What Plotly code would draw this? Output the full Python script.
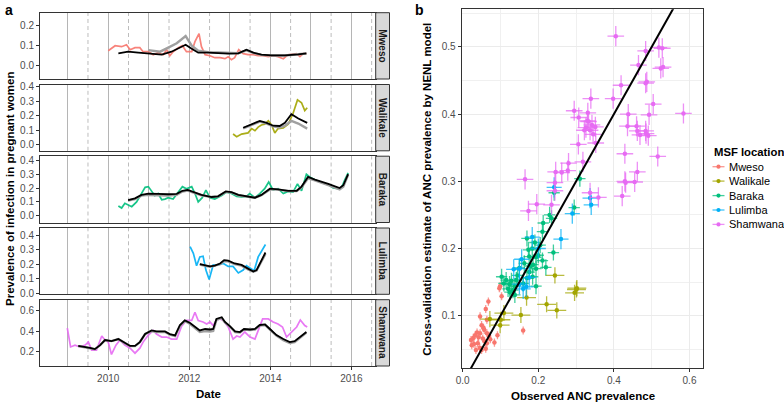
import plotly.graph_objects as go

# ---------------- Panel a data (decimal year, prevalence) ----------------
mweso_obs_t = [2010.00, 2010.17, 2010.33, 2010.45, 2010.54, 2010.66, 2010.78, 2010.86, 2010.99, 2011.11,
               2011.23, 2011.36, 2011.44, 2011.52, 2011.60, 2011.73, 2011.83, 2011.93, 2012.06, 2012.14,
               2012.24, 2012.30, 2012.39, 2012.51, 2012.63, 2012.76, 2012.88, 2012.96, 2013.04, 2013.12,
               2013.22, 2013.33, 2013.45, 2013.58, 2013.70, 2013.82, 2013.95, 2014.07, 2014.19, 2014.32,
               2014.44, 2014.56, 2014.65, 2014.73, 2014.81, 2014.89]
mweso_obs_v = [0.075, 0.10, 0.095, 0.105, 0.08, 0.09, 0.09, 0.07, 0.07, 0.055,
               0.065, 0.055, 0.08, 0.05, 0.07, 0.09, 0.10, 0.07, 0.07, 0.12,
               0.16, 0.095, 0.055, 0.05, 0.04, 0.04, 0.035, 0.045, 0.03, 0.04,
               0.08, 0.06, 0.055, 0.055, 0.05, 0.05, 0.045, 0.05, 0.045, 0.035,
               0.055, 0.06, 0.06, 0.045, 0.06, 0.06]
mweso_fit_t = [2010.25, 2010.49, 2010.74, 2010.99, 2011.32, 2011.56, 2011.77, 2011.91, 2012.06, 2012.22,
               2012.47, 2012.71, 2012.96, 2013.21, 2013.41, 2013.58, 2013.78, 2014.03, 2014.36, 2014.69, 2014.89]
mweso_fit_v = [0.062, 0.07, 0.065, 0.062, 0.055, 0.07, 0.09, 0.105, 0.085, 0.065,
               0.065, 0.062, 0.06, 0.062, 0.08, 0.065, 0.055, 0.052, 0.052, 0.057, 0.062]
mweso_alt_t = [2010.99, 2011.28, 2011.48, 2011.69, 2011.91, 2012.06, 2012.22, 2012.47, 2012.71, 2012.96,
               2013.21, 2013.41, 2013.58, 2013.78, 2014.03, 2014.36, 2014.69, 2014.89]
mweso_alt_v = [0.078, 0.07, 0.09, 0.112, 0.148, 0.10, 0.075, 0.068, 0.066, 0.064,
               0.062, 0.077, 0.064, 0.054, 0.051, 0.051, 0.056, 0.061]

walikale_obs_t = [2013.08, 2013.17, 2013.29, 2013.45, 2013.54, 2013.62, 2013.70, 2013.78, 2013.86, 2013.95,
                  2014.03, 2014.11, 2014.19, 2014.32, 2014.44, 2014.56, 2014.67, 2014.77, 2014.85, 2014.91]
walikale_obs_v = [0.072, 0.053, 0.072, 0.08, 0.11, 0.095, 0.12, 0.135, 0.14, 0.165,
                  0.135, 0.08, 0.11, 0.115, 0.14, 0.215, 0.31, 0.29, 0.235, 0.255]
walikale_fit_t = [2013.33, 2013.54, 2013.74, 2013.91, 2014.07, 2014.23, 2014.36, 2014.52, 2014.69, 2014.91]
walikale_fit_v = [0.116, 0.14, 0.163, 0.15, 0.13, 0.128, 0.15, 0.21, 0.18, 0.15]
walikale_alt_v = [0.112, 0.135, 0.158, 0.145, 0.125, 0.118, 0.13, 0.163, 0.145, 0.11]

baraka_obs_t = [2010.25, 2010.33, 2010.41, 2010.49, 2010.58, 2010.70, 2010.78, 2010.91, 2010.99, 2011.07,
                2011.15, 2011.23, 2011.32, 2011.40, 2011.48, 2011.60, 2011.73, 2011.83, 2011.93, 2012.06,
                2012.14, 2012.22, 2012.32, 2012.41, 2012.51, 2012.63, 2012.80, 2012.92, 2013.04, 2013.17,
                2013.29, 2013.41, 2013.49, 2013.62, 2013.74, 2013.86, 2013.96, 2014.07, 2014.19, 2014.32,
                2014.44, 2014.56, 2014.67, 2014.77, 2014.89, 2014.97, 2015.10, 2015.26, 2015.43, 2015.55,
                2015.67, 2015.76, 2015.84, 2015.92]
baraka_obs_v = [0.07, 0.055, 0.09, 0.08, 0.065, 0.1, 0.137, 0.205, 0.21, 0.18,
                0.145, 0.16, 0.115, 0.12, 0.13, 0.12, 0.17, 0.21, 0.195, 0.21,
                0.16, 0.1, 0.13, 0.185, 0.13, 0.12, 0.145, 0.17, 0.16, 0.14,
                0.135, 0.14, 0.16, 0.13, 0.16, 0.195, 0.243, 0.185, 0.195, 0.16,
                0.175, 0.17, 0.23, 0.18, 0.30, 0.28, 0.26, 0.24, 0.225, 0.2,
                0.195, 0.205, 0.26, 0.31]
baraka_fit_t = [2010.49, 2010.66, 2010.82, 2010.99, 2011.23, 2011.48, 2011.69, 2011.83, 2011.96, 2012.10,
                2012.30, 2012.55, 2012.71, 2012.90, 2013.04, 2013.21, 2013.45, 2013.62, 2013.78, 2013.99,
                2014.19, 2014.44, 2014.65, 2014.77, 2014.93, 2015.10, 2015.43, 2015.71, 2015.80, 2015.92]
baraka_fit_v = [0.113, 0.125, 0.15, 0.16, 0.158, 0.155, 0.158, 0.18, 0.187, 0.17,
                0.15, 0.135, 0.14, 0.175, 0.17, 0.15, 0.14, 0.13, 0.15, 0.195,
                0.19, 0.18, 0.18, 0.21, 0.28, 0.26, 0.23, 0.2, 0.22, 0.30]
baraka_alt_v = [0.11, 0.12, 0.145, 0.15, 0.148, 0.145, 0.15, 0.175, 0.182, 0.168,
                0.148, 0.135, 0.14, 0.172, 0.168, 0.148, 0.138, 0.13, 0.148, 0.19,
                0.188, 0.178, 0.178, 0.205, 0.27, 0.255, 0.22, 0.19, 0.21, 0.295]

lulimba_obs_t = [2012.02, 2012.10, 2012.18, 2012.26, 2012.34, 2012.41, 2012.49, 2012.59, 2012.71, 2012.84,
                 2012.96, 2013.08, 2013.21, 2013.33, 2013.41, 2013.49, 2013.60, 2013.70, 2013.80, 2013.88]
lulimba_obs_v = [0.32, 0.275, 0.19, 0.25, 0.255, 0.16, 0.096, 0.195, 0.195, 0.205,
                 0.185, 0.185, 0.14, 0.16, 0.19, 0.175, 0.155, 0.25, 0.30, 0.335]
lulimba_fit_t = [2012.26, 2012.39, 2012.51, 2012.63, 2012.76, 2012.86, 2012.96, 2013.12, 2013.29, 2013.45,
                 2013.58, 2013.66, 2013.78, 2013.88]
lulimba_fit_v = [0.2, 0.19, 0.185, 0.19, 0.205, 0.228, 0.225, 0.205, 0.195, 0.17,
                 0.15, 0.16, 0.23, 0.28]
lulimba_alt_v = [0.198, 0.188, 0.183, 0.19, 0.2, 0.222, 0.22, 0.2, 0.19, 0.165,
                 0.148, 0.157, 0.22, 0.27]

shamwana_obs_t = [2008.99, 2009.07, 2009.18, 2009.30, 2009.43, 2009.51, 2009.59, 2009.71, 2009.84, 2009.92,
                  2010.00, 2010.08, 2010.19, 2010.29, 2010.41, 2010.54, 2010.66, 2010.78, 2010.86, 2010.99,
                  2011.11, 2011.19, 2011.32, 2011.44, 2011.56, 2011.69, 2011.81, 2011.93, 2012.06, 2012.14,
                  2012.22, 2012.34, 2012.43, 2012.51, 2012.59, 2012.67, 2012.76, 2012.84, 2012.96, 2013.08,
                  2013.17, 2013.25, 2013.37, 2013.50, 2013.62, 2013.70, 2013.81, 2013.95, 2014.07, 2014.19,
                  2014.30, 2014.40, 2014.52, 2014.65, 2014.74, 2014.85, 2014.91]
shamwana_obs_v = [0.429, 0.242, 0.26, 0.242, 0.26, 0.29, 0.21, 0.21, 0.35, 0.31,
                  0.29, 0.167, 0.26, 0.31, 0.26, 0.23, 0.18, 0.23, 0.29, 0.36,
                  0.406, 0.37, 0.34, 0.34, 0.32, 0.32, 0.449, 0.505, 0.505, 0.586,
                  0.505, 0.49, 0.47, 0.49, 0.455, 0.51, 0.52, 0.505, 0.44, 0.32,
                  0.35, 0.34, 0.39, 0.34, 0.32, 0.406, 0.52, 0.52, 0.49, 0.47,
                  0.44, 0.34, 0.39, 0.44, 0.51, 0.455, 0.44]
shamwana_fit_t = [2009.26, 2009.43, 2009.55, 2009.67, 2009.80, 2009.92, 2010.08, 2010.25, 2010.41, 2010.54,
                  2010.66, 2010.78, 2010.91, 2011.07, 2011.19, 2011.40, 2011.52, 2011.65, 2011.77, 2011.89,
                  2012.02, 2012.14, 2012.26, 2012.39, 2012.51, 2012.59, 2012.67, 2012.80, 2012.88, 2013.00,
                  2013.13, 2013.25, 2013.35, 2013.50, 2013.62, 2013.74, 2013.87, 2013.99, 2014.15, 2014.32,
                  2014.48, 2014.60, 2014.73, 2014.89]
shamwana_fit_v = [0.252, 0.242, 0.232, 0.22, 0.26, 0.31, 0.30, 0.32, 0.285, 0.252,
                  0.252, 0.29, 0.37, 0.406, 0.396, 0.396, 0.37, 0.357, 0.46, 0.505,
                  0.48, 0.44, 0.406, 0.42, 0.415, 0.42, 0.52, 0.537, 0.49, 0.449,
                  0.396, 0.39, 0.42, 0.415, 0.42, 0.46, 0.465, 0.42, 0.36, 0.32,
                  0.29, 0.30, 0.34, 0.39]
shamwana_alt_v = [0.25, 0.24, 0.23, 0.22, 0.26, 0.31, 0.30, 0.32, 0.28, 0.25,
                  0.25, 0.29, 0.37, 0.40, 0.39, 0.39, 0.365, 0.35, 0.45, 0.50,
                  0.47, 0.43, 0.39, 0.40, 0.395, 0.40, 0.51, 0.53, 0.485, 0.445,
                  0.39, 0.385, 0.415, 0.41, 0.415, 0.455, 0.46, 0.415, 0.355, 0.31,
                  0.28, 0.29, 0.335, 0.385]

locations = ["Mweso", "Walikale", "Baraka", "Lulimba", "Shamwana"]
colors = ["#F8766D", "#A3A500", "#00BF7D", "#00B0F6", "#E76BF3"]
rgba = ["rgba(248,118,109,0.75)", "rgba(163,165,0,0.75)", "rgba(0,191,125,0.75)",
        "rgba(0,176,246,0.75)", "rgba(231,107,243,0.75)"]

y_ranges = [[-0.0665, 0.265], [-0.0447, 0.417], [-0.049, 0.4296], [-0.006, 0.448], [0.0526, 0.711]]
y_ticks = [[0.0, 0.1, 0.2], [0.0, 0.1, 0.2, 0.3, 0.4], [0.0, 0.1, 0.2, 0.3, 0.4],
           [0.0, 0.1, 0.2, 0.3, 0.4], [0.2, 0.4, 0.6]]
x_ticks = [2010, 2012, 2014, 2016]

# ---------------- Panel b data (observed, cross-validated estimate) ----------------
mweso_obs_b = [0.099, 0.103, 0.068, 0.061, 0.046, 0.064, 0.05, 0.057, 0.046, 0.064, 0.033, 0.042, 0.053,
               0.028, 0.092, 0.084, 0.064, 0.040, 0.024, 0.035, 0.05, 0.061, 0.16, 0.022, 0.073, 0.055,
               0.097, 0.03, 0.045, 0.07, 0.038, 0.058]
mweso_est_b = [0.144, 0.129, 0.121, 0.11, 0.099, 0.094, 0.086, 0.079, 0.074, 0.074, 0.071, 0.068, 0.066,
               0.067, 0.071, 0.06, 0.059, 0.059, 0.056, 0.049, 0.049, 0.051, 0.078, 0.064, 0.065, 0.082,
               0.141, 0.058, 0.052, 0.07, 0.075, 0.062]
walikale_obs_b = [0.244, 0.301, 0.296, 0.169, 0.222, 0.249, 0.154, 0.109, 0.072, 0.101, 0.099, 0.302]
walikale_est_b = [0.16, 0.139, 0.134, 0.127, 0.117, 0.108, 0.101, 0.104, 0.095, 0.094, 0.086, 0.141]
baraka_obs_b = [0.31, 0.242, 0.295, 0.213, 0.235, 0.211, 0.191, 0.184, 0.174, 0.24, 0.194, 0.176, 0.211,
                0.163, 0.18, 0.22, 0.15, 0.194, 0.176, 0.103, 0.115, 0.129, 0.142, 0.124, 0.138, 0.133,
                0.12, 0.138, 0.16, 0.194, 0.185, 0.17, 0.109, 0.23, 0.2, 0.145, 0.125, 0.17, 0.205, 0.186]
baraka_est_b = [0.304, 0.283, 0.261, 0.238, 0.245, 0.225, 0.209, 0.2, 0.198, 0.194, 0.187, 0.188, 0.182,
                0.178, 0.174, 0.172, 0.171, 0.17, 0.165, 0.158, 0.153, 0.152, 0.153, 0.147, 0.144, 0.138,
                0.14, 0.131, 0.148, 0.144, 0.158, 0.156, 0.148, 0.25, 0.19, 0.16, 0.135, 0.215, 0.205, 0.176]
lulimba_obs_b = [0.242, 0.337, 0.29, 0.26, 0.184, 0.156, 0.15, 0.135, 0.176, 0.168, 0.16, 0.15, 0.34, 0.2]
lulimba_est_b = [0.291, 0.275, 0.252, 0.214, 0.217, 0.184, 0.17, 0.169, 0.157, 0.143, 0.14, 0.147, 0.265, 0.2]
shamwana_obs_b = [0.405, 0.484, 0.519, 0.528, 0.465, 0.524, 0.530, 0.487, 0.484, 0.419, 0.339, 0.398, 0.504,
                  0.584, 0.295, 0.331, 0.307, 0.438, 0.493, 0.333, 0.342, 0.326, 0.351, 0.337, 0.322, 0.436,
                  0.46, 0.462, 0.484, 0.469, 0.491, 0.485, 0.352, 0.306, 0.429, 0.516, 0.318, 0.28, 0.246,
                  0.262, 0.278, 0.462, 0.165, 0.429, 0.455, 0.244, 0.431, 0.244, 0.337, 0.359, 0.422, 0.196,
                  0.235, 0.174, 0.33, 0.345]
shamwana_est_b = [0.516, 0.494, 0.499, 0.498, 0.473, 0.468, 0.47, 0.448, 0.446, 0.443, 0.423, 0.423, 0.415,
                  0.401, 0.405, 0.402, 0.395, 0.4, 0.399, 0.389, 0.384, 0.38, 0.381, 0.376, 0.376, 0.382,
                  0.382, 0.375, 0.375, 0.369, 0.368, 0.371, 0.357, 0.355, 0.341, 0.337, 0.329, 0.327, 0.314,
                  0.313, 0.316, 0.314, 0.303, 0.3, 0.299, 0.298, 0.298, 0.286, 0.283, 0.276, 0.278, 0.266,
                  0.265, 0.256, 0.39, 0.37]
obs_err = [0.004, 0.025, 0.015, 0.02, 0.022]
est_err = [0.006, 0.012, 0.012, 0.015, 0.015]
identity_line = [0.0, 0.7]

series_a = [
    (mweso_obs_t, mweso_obs_v, mweso_alt_t, mweso_alt_v, mweso_fit_t, mweso_fit_v),
    (walikale_obs_t, walikale_obs_v, walikale_fit_t, walikale_alt_v, walikale_fit_t, walikale_fit_v),
    (baraka_obs_t, baraka_obs_v, baraka_fit_t, baraka_alt_v, baraka_fit_t, baraka_fit_v),
    (lulimba_obs_t, lulimba_obs_v, lulimba_fit_t, lulimba_alt_v, lulimba_fit_t, lulimba_fit_v),
    (shamwana_obs_t, shamwana_obs_v, shamwana_fit_t, shamwana_alt_v, shamwana_fit_t, shamwana_fit_v),
]
series_b = [
    (mweso_obs_b, mweso_est_b), (walikale_obs_b, walikale_est_b), (baraka_obs_b, baraka_est_b),
    (lulimba_obs_b, lulimba_est_b), (shamwana_obs_b, shamwana_est_b),
]

W, H = 784, 403
FONT = "Liberation Sans, Arial, Helvetica, sans-serif"
def px(x): return x / W
def py(y): return 1 - y / H

fig = go.Figure()

# ---------- Panel a ----------
panel_top = [12.7, 84.5, 156.2, 228.0, 299.7]
panel_h = 66.3
xa0, xa1 = 40.0, 375.7
strip_x1 = 389.5

shapes = []
annotations = []
for i in range(5):
    n = i + 1
    xa = "x" if n == 1 else f"x{n}"
    ya = "y" if n == 1 else f"y{n}"
    ot, ov, at, av, ft, fv = series_a[i]
    fig.add_trace(go.Scatter(x=ot, y=ov, mode="lines", line=dict(color=colors[i], width=1.7),
                             opacity=0.9, xaxis=xa, yaxis=ya, hoverinfo="skip"))
    fig.add_trace(go.Scatter(x=at, y=av, mode="lines", line=dict(color="#A0A0A0", width=2.4),
                             xaxis=xa, yaxis=ya, hoverinfo="skip"))
    fig.add_trace(go.Scatter(x=ft, y=fv, mode="lines", line=dict(color="black", width=1.8),
                             xaxis=xa, yaxis=ya, hoverinfo="skip"))
    top = panel_top[i]
    bot = top + panel_h
    bottom_panel = (n == 5)
    fig.layout[f"xaxis{'' if n == 1 else n}"] = dict(
        domain=[px(xa0), px(xa1)], anchor=ya, range=[2008.316, 2016.6], automargin=False,
        tickvals=x_ticks, ticktext=[str(v) for v in x_ticks],
        showticklabels=bottom_panel, ticks="outside" if bottom_panel else "",
        ticklen=3, tickcolor="#333333", tickfont=dict(size=10, color="#4D4D4D", family=FONT),
        showgrid=True, gridcolor="#B5B5B5", gridwidth=1.1,
        minor=dict(dtick=1, tick0=2009, showgrid=True, gridcolor="#B5B5B5", gridwidth=1.1),
        zeroline=False, showline=True, mirror=True, linecolor="#333333", linewidth=1,
        matches=None if n == 1 else "x",
    )
    fig.layout[f"yaxis{'' if n == 1 else n}"] = dict(
        domain=[py(bot), py(top)], anchor=xa, range=y_ranges[i], automargin=False,
        tickvals=y_ticks[i], tickformat=".1f", ticks="outside", ticklen=3, tickcolor="#333333",
        tickfont=dict(size=10, color="#4D4D4D", family=FONT),
        showgrid=False, zeroline=False, showline=True, mirror=True, linecolor="#333333", linewidth=1,
    )
    for k in range(8):
        yr = 2009.5 + k
        shapes.append(dict(type="line", xref=xa, yref=f"{ya} domain", x0=yr, x1=yr, y0=0, y1=1,
                           line=dict(color="#BDBDBD", width=1, dash="4px,3px"), layer="below"))
    shapes.append(dict(type="rect", xref="paper", yref="paper", x0=px(xa1), x1=px(strip_x1),
                       y0=py(bot), y1=py(top), fillcolor="#D9D9D9",
                       line=dict(color="#333333", width=1), layer="above"))
    annotations.append(dict(x=px((xa1 + strip_x1) / 2), y=py((top + bot) / 2), xref="paper", yref="paper",
                            xanchor="center", yanchor="middle",
                            text=f"<b>{locations[i]}</b>", textangle=90, showarrow=False,
                            font=dict(size=10, color="#1A1A1A", family=FONT)))

# ---------- Panel b ----------
for i in range(5):
    ox, ey = series_b[i]
    fig.add_trace(go.Scatter(
        x=ox, y=ey, mode="markers", xaxis="x6", yaxis="y6", hoverinfo="skip",
        marker=dict(color=colors[i], size=4.5),
        error_x=dict(type="data", array=[obs_err[i]] * len(ox), width=0, thickness=1.3, color=rgba[i]),
        error_y=dict(type="data", array=[est_err[i]] * len(ey), width=0, thickness=1.3, color=rgba[i]),
    ))
fig.add_trace(go.Scatter(x=identity_line, y=identity_line, mode="lines", xaxis="x6", yaxis="y6",
                         line=dict(color="black", width=2), hoverinfo="skip"))

fig.layout["xaxis6"] = dict(
    domain=[px(461.7), px(703.3)], anchor="y6", range=[-0.0026, 0.6365], automargin=False,
    tickvals=[0.0, 0.2, 0.4, 0.6], tickformat=".1f", ticks="outside", ticklen=3, tickcolor="#333333",
    tickfont=dict(size=10, color="#4D4D4D", family=FONT),
    showgrid=True, gridcolor="#EBEBEB", gridwidth=1,
    minor=dict(dtick=0.1, tick0=0, showgrid=True, gridcolor="#F0F0F0", gridwidth=0.6),
    zeroline=False, showline=True, mirror=True, linecolor="#333333", linewidth=1,
)
fig.layout["yaxis6"] = dict(
    domain=[py(368), py(9.3)], anchor="x6", range=[0.0222, 0.556], automargin=False,
    tickvals=[0.1, 0.2, 0.3, 0.4, 0.5], tickformat=".1f", ticks="outside", ticklen=3, tickcolor="#333333",
    tickfont=dict(size=10, color="#4D4D4D", family=FONT),
    showgrid=True, gridcolor="#EBEBEB", gridwidth=1,
    minor=dict(dtick=0.05, tick0=0, showgrid=True, gridcolor="#F0F0F0", gridwidth=0.6),
    zeroline=False, showline=True, mirror=True, linecolor="#333333", linewidth=1,
)

# ---------- Manual legend ----------
annotations.append(dict(x=px(711.5), y=py(151.7), xref="paper", yref="paper", xanchor="left",
                        yanchor="middle", text="<b>MSF location</b>", showarrow=False,
                        font=dict(size=11.3, color="black", family=FONT)))
leg_y = [166.7, 181.1, 195.6, 210.0, 224.4]
for i in range(5):
    yy = leg_y[i]
    shapes.append(dict(type="line", xref="paper", yref="paper", x0=px(712.5), x1=px(724.5),
                       y0=py(yy), y1=py(yy), line=dict(color=rgba[i], width=1.3)))
    shapes.append(dict(type="circle", xref="paper", yref="paper", x0=px(716.4), x1=px(720.6),
                       y0=py(yy + 2.1), y1=py(yy - 2.1), fillcolor=colors[i], line=dict(width=0)))
    annotations.append(dict(x=px(726.5), y=py(yy), xref="paper", yref="paper", xanchor="left",
                            yanchor="middle", text=locations[i], showarrow=False,
                            font=dict(size=11, color="black", family=FONT)))

# ---------- Titles / panel labels ----------
annotations += [
    dict(x=px(9), y=py(10), text="<b>a</b>", font=dict(size=14, color="black", family=FONT)),
    dict(x=px(419), y=py(10), text="<b>b</b>", font=dict(size=14, color="black", family=FONT)),
    dict(x=px(10), y=py(189), textangle=-90, text="<b>Prevalence of infection in pregnant women</b>",
         font=dict(size=11.5, color="black", family=FONT)),
    dict(x=px(208), y=py(394), text="<b>Date</b>", font=dict(size=11.5, color="black", family=FONT)),
    dict(x=px(582.5), y=py(396), text="<b>Observed ANC prevalence</b>",
         font=dict(size=11.5, color="black", family=FONT)),
    dict(x=px(427), y=py(188.7), textangle=-90,
         text="<b>Cross-validation estimate of ANC prevalence by NENL model</b>",
         font=dict(size=11.5, color="black", family=FONT)),
]
for a in annotations[-6:]:
    a.update(xref="paper", yref="paper", xanchor="center", yanchor="middle", showarrow=False)

fig.update_layout(
    width=W, height=H, margin=dict(l=0, r=0, t=0, b=0), autosize=False,
    paper_bgcolor="white", plot_bgcolor="white", showlegend=False,
    shapes=shapes, annotations=annotations, font=dict(family=FONT),
)
fig.write_html("out.html", config={"displayModeBar": False},
               post_script="document.body.style.margin='0px';document.body.style.padding='0px';")
